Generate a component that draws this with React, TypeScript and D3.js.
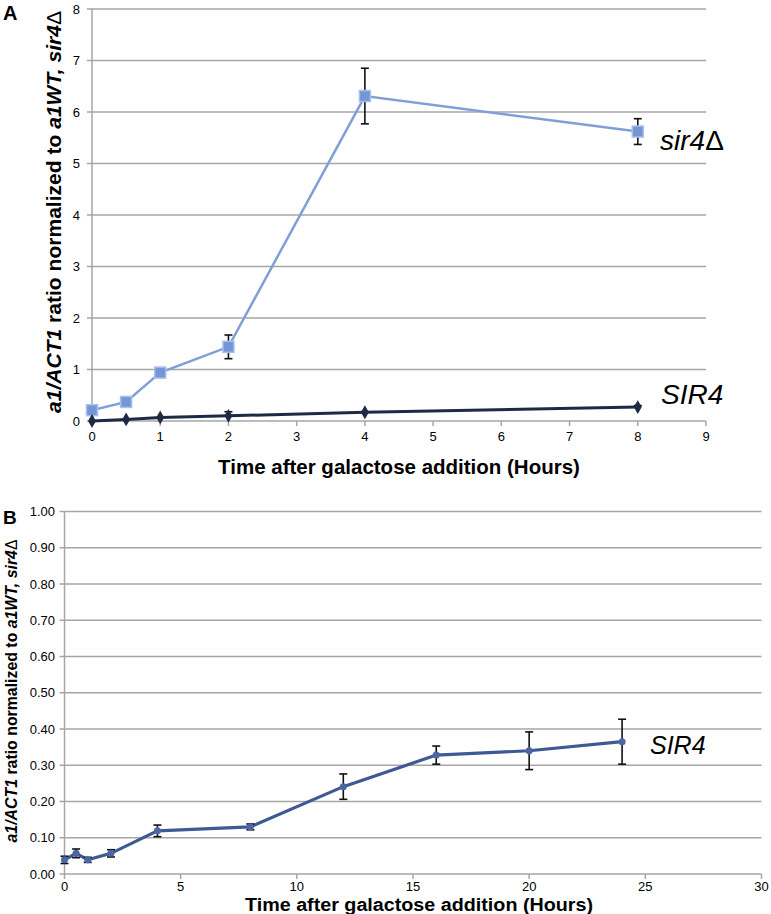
import React from "react";
import * as d3 from "d3";

// Panel A data
const timesA = [0, 0.5, 1, 2, 4, 8];
const sir4Delta = [0.21, 0.37, 0.94, 1.44, 6.31, 5.62];
const sir4DeltaErr = [0, 0, 0, 0.23, 0.54, 0.25];
const sir4A = [0.0, 0.03, 0.07, 0.1, 0.17, 0.27];
const sir4AErr = [0, 0, 0, 0.08, 0, 0.03];
const yTicksA = [0, 1, 2, 3, 4, 5, 6, 7, 8];
const xTicksA = [0, 1, 2, 3, 4, 5, 6, 7, 8, 9];

// Panel B data
const timesB = [0, 0.5, 1, 2, 4, 8, 12, 16, 20, 24];
const sir4B = [0.039, 0.057, 0.039, 0.057, 0.119, 0.13, 0.241, 0.328, 0.34, 0.365];
const sir4BErr = [0.01, 0.012, 0.007, 0.01, 0.016, 0.008, 0.035, 0.025, 0.052, 0.062];
const yTicksB = [0, 0.1, 0.2, 0.3, 0.4, 0.5, 0.6, 0.7, 0.8, 0.9, 1.0];
const xTicksB = [0, 5, 10, 15, 20, 25, 30];

const FONT = "'Liberation Sans', Arial, Helvetica, sans-serif";
const GRID = "#a6a6a6";

function YTitle({ x, y, size, len }: { x: number; y: number; size: number; len?: number }) {
  return (
    <text
      transform={`translate(${x},${y}) rotate(-90)`}
      textAnchor="middle"
      fontFamily={FONT}
      fontWeight="bold"
      fontSize={size}
      fill="#000"
      textLength={len}
      lengthAdjust={len ? "spacingAndGlyphs" : undefined}
    >
      <tspan fontStyle="italic">a1/ACT1</tspan>
      <tspan> ratio normalized to </tspan>
      <tspan fontStyle="italic">a1WT, sir4</tspan>
      <tspan fontWeight="normal">Δ</tspan>
    </text>
  );
}

export default function App() {
  // Panel A scales
  const xA = d3.scaleLinear().domain([0, 9]).range([92, 706]);
  const yA = d3.scaleLinear().domain([0, 8]).range([421, 9]);
  // Panel B scales
  const xB = d3.scaleLinear().domain([0, 30]).range([64.5, 761.5]);
  const yB = d3.scaleLinear().domain([0, 1]).range([874, 511.5]);

  const lineA1 = d3
    .line<number>()
    .x((_, i) => xA(timesA[i]))
    .y((d) => yA(d));
  const lineB = d3
    .line<number>()
    .x((_, i) => xB(timesB[i]))
    .y((d) => yB(d));

  const diamond = d3.symbol().type(d3.symbolDiamond).size(55)() as string;

  return (
    <svg
      width={771}
      height={914}
      style={{ position: "absolute", left: 0, top: 0, background: "#fff" }}
      fontFamily={FONT}
    >
      <rect width={771} height={914} fill="#fff" />

      {/* ---------------- Panel A ---------------- */}
      <text x={3} y={20} fontSize={20} fontWeight="bold">A</text>
      {yTicksA.map((t) => (
        <g key={"ga" + t}>
          <line x1={xA(0)} x2={xA(9)} y1={yA(t)} y2={yA(t)} stroke={GRID} strokeWidth={1.5} />
          <line x1={xA(0) - 5} x2={xA(0)} y1={yA(t)} y2={yA(t)} stroke={GRID} strokeWidth={1.5} />
          <text x={80} y={yA(t)} dy="0.35em" textAnchor="end" fontSize={13}>{t}</text>
        </g>
      ))}
      <line x1={xA(0)} x2={xA(0)} y1={yA(0)} y2={yA(8)} stroke={GRID} strokeWidth={1.5} />
      {xTicksA.map((t) => (
        <g key={"xa" + t}>
          <line x1={xA(t)} x2={xA(t)} y1={yA(0)} y2={yA(0) + 5} stroke={GRID} strokeWidth={1.5} />
          <text x={xA(t)} y={yA(0) + 15} dy="0.35em" textAnchor="middle" fontSize={13}>{t}</text>
        </g>
      ))}
      <text x={(xA(0) + xA(9)) / 2} y={474} textAnchor="middle" fontSize={20.5} fontWeight="bold">
        Time after galactose addition (Hours)
      </text>
      <YTitle x={61} y={212} size={20.5} len={402} />

      {/* sir4Δ series */}
      <path d={lineA1(sir4Delta) || ""} fill="none" stroke="#7f9fd8" strokeWidth={2.5} />
      {/* SIR4 series */}
      <path d={lineA1(sir4A) || ""} fill="none" stroke="#1e2a45" strokeWidth={3} />
      {sir4DeltaErr.map((e, i) =>
        e > 0 ? (
          <g key={"ead" + i} stroke="#111" strokeWidth={1.6}>
            <line x1={xA(timesA[i])} x2={xA(timesA[i])} y1={yA(sir4Delta[i] + e)} y2={yA(sir4Delta[i] - e)} />
            <line x1={xA(timesA[i]) - 4} x2={xA(timesA[i]) + 4} y1={yA(sir4Delta[i] + e)} y2={yA(sir4Delta[i] + e)} />
            <line x1={xA(timesA[i]) - 4} x2={xA(timesA[i]) + 4} y1={yA(sir4Delta[i] - e)} y2={yA(sir4Delta[i] - e)} />
          </g>
        ) : null
      )}
      {sir4AErr.map((e, i) =>
        e > 0 ? (
          <g key={"eas" + i} stroke="#111" strokeWidth={1.6}>
            <line x1={xA(timesA[i])} x2={xA(timesA[i])} y1={yA(sir4A[i] + e)} y2={yA(Math.max(0, sir4A[i] - e))} />
            <line x1={xA(timesA[i]) - 4} x2={xA(timesA[i]) + 4} y1={yA(sir4A[i] + e)} y2={yA(sir4A[i] + e)} />
          </g>
        ) : null
      )}
      {sir4Delta.map((v, i) => (
        <rect
          key={"sqa" + i}
          x={xA(timesA[i]) - 5.5}
          y={yA(v) - 5.5}
          width={11}
          height={11}
          fill="#7396d6"
          stroke="#a9c0ea"
          strokeWidth={1.5}
        />
      ))}
      {sir4A.map((v, i) => (
        <path key={"dia" + i} d={diamond} transform={`translate(${xA(timesA[i])},${yA(v)})`} fill="#1e2a45" />
      ))}
      <text x={660} y={150} fontSize={28} fontStyle="italic">
        sir4<tspan fontStyle="normal">Δ</tspan>
      </text>
      <text x={661} y={404} fontSize={28} fontStyle="italic">SIR4</text>

      {/* ---------------- Panel B ---------------- */}
      <text x={3} y={524} fontSize={19} fontWeight="bold">B</text>
      {yTicksB.map((t) => (
        <g key={"gb" + t}>
          <line x1={xB(0)} x2={xB(30)} y1={yB(t)} y2={yB(t)} stroke={GRID} strokeWidth={1.5} />
          <line x1={xB(0) - 5} x2={xB(0)} y1={yB(t)} y2={yB(t)} stroke={GRID} strokeWidth={1.5} />
          <text x={55} y={yB(t)} dy="0.35em" textAnchor="end" fontSize={13}>{t.toFixed(2)}</text>
        </g>
      ))}
      <line x1={xB(0)} x2={xB(0)} y1={yB(0)} y2={yB(1)} stroke={GRID} strokeWidth={1.5} />
      {xTicksB.map((t) => (
        <g key={"xb" + t}>
          <line x1={xB(t)} x2={xB(t)} y1={yB(0)} y2={yB(0) + 5} stroke={GRID} strokeWidth={1.5} />
          <text x={xB(t)} y={yB(0) + 12} dy="0.35em" textAnchor="middle" fontSize={13}>{t}</text>
        </g>
      ))}
      <text
        x={419}
        y={911}
        textAnchor="middle"
        fontSize={17.5}
        fontWeight="bold"
        textLength={348}
        lengthAdjust="spacingAndGlyphs"
      >
        Time after galactose addition (Hours)
      </text>
      <YTitle x={17} y={691} size={16} len={303} />

      <path d={lineB(sir4B) || ""} fill="none" stroke="#3e5a94" strokeWidth={3.2} />
      {sir4BErr.map((e, i) => (
        <g key={"eb" + i} stroke="#111" strokeWidth={1.6}>
          <line x1={xB(timesB[i])} x2={xB(timesB[i])} y1={yB(sir4B[i] + e)} y2={yB(sir4B[i] - e)} />
          <line x1={xB(timesB[i]) - 4} x2={xB(timesB[i]) + 4} y1={yB(sir4B[i] + e)} y2={yB(sir4B[i] + e)} />
          <line x1={xB(timesB[i]) - 4} x2={xB(timesB[i]) + 4} y1={yB(sir4B[i] - e)} y2={yB(sir4B[i] - e)} />
        </g>
      ))}
      {sir4B.map((v, i) => (
        <circle key={"cb" + i} cx={xB(timesB[i])} cy={yB(v)} r={3.5} fill="#4a67a3" />
      ))}
      <text x={650} y={754} fontSize={25} fontStyle="italic">SIR4</text>
    </svg>
  );
}
